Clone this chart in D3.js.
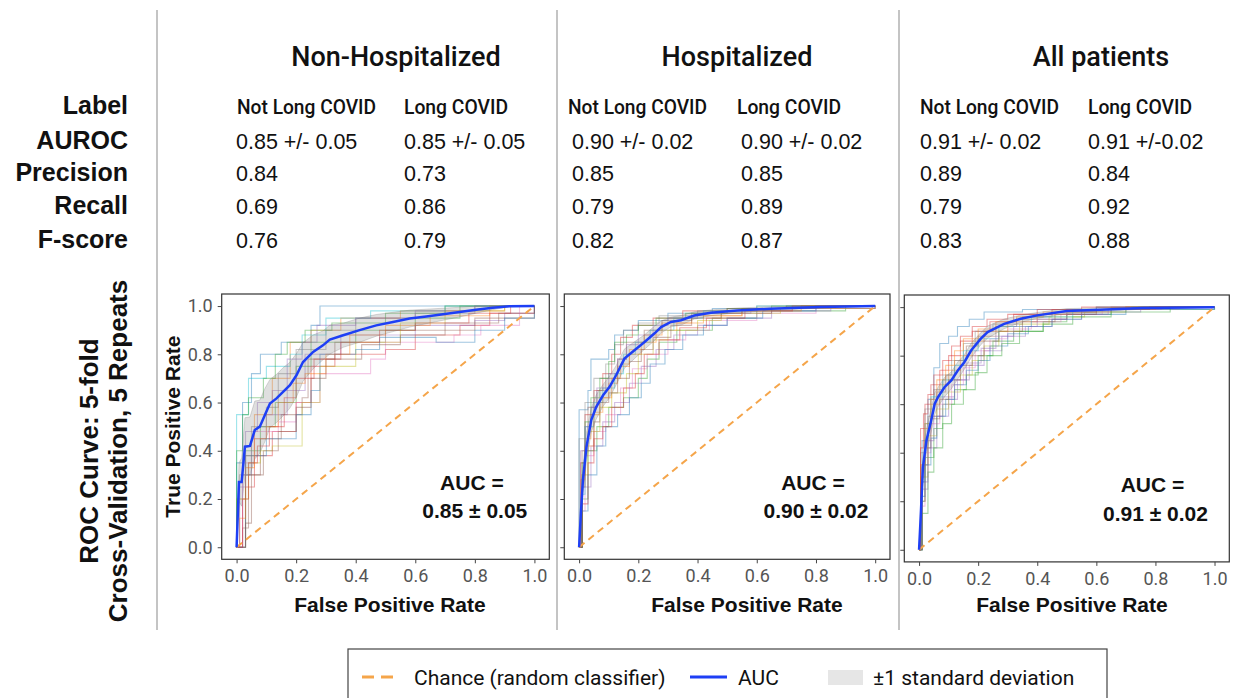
<!DOCTYPE html>
<html>
<head>
<meta charset="utf-8">
<script src="https://cdn.jsdelivr.net/npm/d3@7"></script>
<style>
  body { margin: 0; background: #fff; }
  svg text { font-family: "Liberation Sans", Arial, sans-serif; }
</style>
</head>
<body>
<div id="d3-container"></div>
<script>
// ---- table data ----
const panelTitles = ["Non-Hospitalized", "Hospitalized", "All patients"];
const rowLabels = ["Label", "AUROC", "Precision", "Recall", "F-score"];
const classLabels = ["Not Long COVID", "Long COVID"];
const aurocText = [["0.85 +/- 0.05", "0.85 +/- 0.05"], ["0.90 +/- 0.02", "0.90 +/- 0.02"], ["0.91 +/- 0.02", "0.91 +/-0.02"]];
const precision = [["0.84", "0.73"], ["0.85", "0.85"], ["0.89", "0.84"]];
const recall = [["0.69", "0.86"], ["0.79", "0.89"], ["0.79", "0.92"]];
const fscore = [["0.76", "0.79"], ["0.82", "0.87"], ["0.83", "0.88"]];
const aucMean = ["0.85", "0.90", "0.91"];
const aucStd = ["0.05", "0.02", "0.02"];
const tickValues = [0, 0.2, 0.4, 0.6, 0.8, 1.0];

// ---- mean ROC + std per panel ----
const nonHospMeanFpr = [0, 0.008, 0.017, 0.028, 0.045, 0.061, 0.078, 0.095, 0.112, 0.134, 0.156, 0.179, 0.201, 0.223, 0.257, 0.29, 0.313, 0.358, 0.413, 0.469, 0.525, 0.581, 0.637, 0.693, 0.749, 0.804, 0.86, 0.916, 1];
const nonHospMeanTpr = [0, 0.27, 0.27, 0.417, 0.42, 0.486, 0.50, 0.548, 0.596, 0.617, 0.644, 0.672, 0.713, 0.768, 0.81, 0.837, 0.861, 0.879, 0.90, 0.92, 0.934, 0.948, 0.957, 0.966, 0.975, 0.985, 0.993, 0.999, 1];
const nonHospStd = [0, 0.08, 0.1, 0.12, 0.12, 0.12, 0.11, 0.11, 0.1, 0.1, 0.1, 0.095, 0.09, 0.08, 0.07, 0.06, 0.06, 0.05, 0.05, 0.045, 0.04, 0.035, 0.03, 0.025, 0.02, 0.015, 0.008, 0.002, 0];

const hospMeanFpr = [0, 0.006, 0.013, 0.025, 0.041, 0.058, 0.081, 0.103, 0.125, 0.153, 0.187, 0.221, 0.254, 0.277, 0.31, 0.344, 0.389, 0.445, 0.534, 0.646, 0.814, 1];
const hospMeanTpr = [0, 0.14, 0.28, 0.417, 0.527, 0.582, 0.63, 0.665, 0.713, 0.782, 0.817, 0.851, 0.886, 0.913, 0.934, 0.941, 0.961, 0.972, 0.982, 0.989, 0.996, 1];
const hospStd = [0, 0.05, 0.06, 0.06, 0.05, 0.05, 0.045, 0.045, 0.04, 0.04, 0.035, 0.03, 0.03, 0.025, 0.02, 0.02, 0.015, 0.012, 0.01, 0.008, 0.004, 0];

const allMeanFpr = [0, 0.006, 0.013, 0.025, 0.041, 0.053, 0.064, 0.086, 0.109, 0.131, 0.153, 0.176, 0.209, 0.232, 0.288, 0.344, 0.4, 0.5, 0.613, 0.758, 1];
const allMeanTpr = [0, 0.148, 0.34, 0.45, 0.533, 0.602, 0.629, 0.67, 0.698, 0.739, 0.773, 0.821, 0.87, 0.897, 0.931, 0.952, 0.966, 0.984, 0.989, 0.996, 1];
const allStd = [0, 0.05, 0.06, 0.05, 0.05, 0.045, 0.04, 0.04, 0.035, 0.035, 0.03, 0.03, 0.025, 0.025, 0.02, 0.015, 0.012, 0.01, 0.008, 0.004, 0];

// ---- individual folds (fpr, tpr at each step) ----
const nonHospFolds = [
  [[0,0],[0,0.35],[0.02,0.6],[0.05,0.72],[0.08,0.8],[0.15,0.85],[0.25,0.92],[0.28,1.0],[1,1]],
  [[0,0],[0,0.2],[0.03,0.38],[0.06,0.55],[0.12,0.7],[0.18,0.85],[0.25,0.9],[0.35,0.95],[0.55,0.98],[0.9,1],[1,1]],
  [[0,0],[0.03,0.15],[0.03,0.4],[0.08,0.5],[0.13,0.6],[0.2,0.75],[0.25,0.85],[0.4,0.9],[0.6,0.95],[0.75,1],[1,1]],
  [[0,0],[0.03,0.25],[0.06,0.38],[0.12,0.48],[0.2,0.6],[0.25,0.75],[0.33,0.8],[0.5,0.82],[0.6,0.88],[0.75,0.92],[0.85,0.97],[1,1]],
  [[0,0],[0.02,0.3],[0.05,0.45],[0.1,0.55],[0.17,0.65],[0.23,0.8],[0.35,0.88],[0.6,0.92],[0.8,0.94],[0.9,0.97],[1,1]],
  [[0,0],[0.02,0.08],[0.04,0.3],[0.08,0.45],[0.15,0.55],[0.22,0.62],[0.24,0.78],[0.33,0.85],[0.5,0.9],[0.8,0.95],[1,1]],
  [[0,0],[0.02,0.35],[0.06,0.48],[0.14,0.52],[0.2,0.6],[0.28,0.72],[0.45,0.78],[0.5,0.85],[0.73,0.88],[0.82,0.92],[0.95,1],[1,1]],
  [[0,0],[0.01,0.3],[0.05,0.5],[0.1,0.58],[0.14,0.72],[0.2,0.82],[0.3,0.9],[0.4,0.95],[0.6,0.97],[0.8,1],[1,1]],
  [[0,0],[0,0.2],[0.04,0.35],[0.08,0.4],[0.12,0.42],[0.22,0.43],[0.22,0.6],[0.28,0.75],[0.4,0.85],[0.55,0.93],[0.7,0.98],[0.9,1],[1,1]],
  [[0,0],[0,0.55],[0.04,0.7],[0.1,0.75],[0.18,0.8],[0.22,0.88],[0.3,0.95],[0.45,0.98],[0.7,1],[1,1]],
  [[0,0],[0.03,0.38],[0.1,0.45],[0.2,0.55],[0.25,0.65],[0.28,0.8],[0.4,0.82],[0.48,0.87],[0.67,0.85],[0.8,0.9],[0.9,0.95],[1,1]],
  [[0,0],[0.01,0.12],[0.03,0.33],[0.06,0.45],[0.1,0.5],[0.14,0.6],[0.19,0.68],[0.23,0.72],[0.3,0.8],[0.38,0.88],[0.5,0.92],[0.65,0.96],[0.85,1],[1,1]],
  [[0,0],[0,0.4],[0.02,0.55],[0.04,0.62],[0.09,0.7],[0.13,0.8],[0.17,0.85],[0.23,0.9],[0.32,0.93],[0.5,0.97],[0.7,1],[1,1]],
  [[0,0],[0.02,0.2],[0.04,0.35],[0.07,0.42],[0.11,0.5],[0.16,0.62],[0.2,0.7],[0.26,0.78],[0.35,0.85],[0.48,0.9],[0.6,0.93],[0.78,0.97],[0.92,1],[1,1]],
  [[0,0],[0.01,0.25],[0.03,0.48],[0.07,0.6],[0.12,0.65],[0.17,0.78],[0.22,0.85],[0.27,0.92],[0.4,0.95],[0.6,0.98],[0.8,1],[1,1]],
  [[0,0],[0.03,0.1],[0.05,0.3],[0.09,0.4],[0.14,0.48],[0.2,0.58],[0.25,0.7],[0.3,0.78],[0.42,0.84],[0.55,0.88],[0.7,0.93],[0.88,0.97],[1,1]]
];

const hospFolds = [
  [[0,0],[0,0.57],[0.03,0.65],[0.04,0.78],[0.1,0.82],[0.12,0.88],[0.15,0.9],[0.2,0.94],[0.3,0.97],[0.45,0.99],[0.7,1],[1,1]],
  [[0,0],[0.01,0.3],[0.02,0.45],[0.04,0.55],[0.07,0.62],[0.1,0.68],[0.13,0.75],[0.17,0.82],[0.22,0.88],[0.28,0.93],[0.38,0.96],[0.55,0.99],[0.8,1],[1,1]],
  [[0,0],[0.01,0.2],[0.03,0.4],[0.06,0.5],[0.1,0.58],[0.15,0.62],[0.2,0.7],[0.23,0.78],[0.27,0.85],[0.33,0.9],[0.45,0.95],[0.6,0.98],[0.9,1],[1,1]],
  [[0,0],[0.005,0.35],[0.02,0.55],[0.05,0.65],[0.08,0.72],[0.11,0.8],[0.14,0.87],[0.18,0.92],[0.25,0.95],[0.35,0.98],[0.5,0.99],[0.7,1],[1,1]],
  [[0,0],[0.01,0.25],[0.04,0.42],[0.08,0.52],[0.12,0.6],[0.17,0.68],[0.21,0.75],[0.26,0.82],[0.32,0.88],[0.4,0.92],[0.5,0.95],[0.65,0.98],[0.85,1],[1,1]],
  [[0,0],[0.01,0.4],[0.03,0.58],[0.06,0.65],[0.09,0.7],[0.13,0.78],[0.16,0.85],[0.22,0.9],[0.28,0.94],[0.38,0.97],[0.55,0.99],[0.75,1],[1,1]],
  [[0,0],[0.005,0.15],[0.02,0.38],[0.05,0.48],[0.09,0.55],[0.14,0.66],[0.18,0.74],[0.23,0.8],[0.3,0.86],[0.36,0.9],[0.44,0.94],[0.6,0.97],[0.8,0.99],[1,1]],
  [[0,0],[0,0.45],[0.02,0.6],[0.05,0.7],[0.09,0.76],[0.12,0.84],[0.15,0.9],[0.2,0.93],[0.27,0.96],[0.4,0.98],[0.6,1],[1,1]],
  [[0,0],[0.01,0.3],[0.03,0.48],[0.07,0.58],[0.11,0.64],[0.16,0.72],[0.2,0.8],[0.25,0.86],[0.3,0.9],[0.4,0.94],[0.48,0.97],[0.68,0.99],[1,1]],
  [[0,0],[0.01,0.22],[0.02,0.5],[0.05,0.6],[0.08,0.66],[0.12,0.72],[0.15,0.8],[0.19,0.85],[0.24,0.9],[0.32,0.95],[0.42,0.98],[0.6,1],[1,1]],
  [[0,0],[0.01,0.15],[0.03,0.3],[0.06,0.42],[0.09,0.5],[0.13,0.55],[0.17,0.62],[0.21,0.68],[0.24,0.76],[0.29,0.82],[0.35,0.88],[0.42,0.92],[0.5,0.95],[0.62,0.98],[0.8,1],[1,1]],
  [[0,0],[0.005,0.28],[0.02,0.42],[0.05,0.56],[0.08,0.62],[0.11,0.7],[0.14,0.76],[0.17,0.8],[0.21,0.85],[0.26,0.9],[0.33,0.93],[0.42,0.96],[0.55,0.98],[0.75,1],[1,1]],
  [[0,0],[0.01,0.35],[0.02,0.52],[0.04,0.62],[0.07,0.7],[0.1,0.77],[0.12,0.85],[0.16,0.88],[0.2,0.92],[0.26,0.95],[0.36,0.97],[0.5,0.99],[0.65,1],[1,1]],
  [[0,0],[0.01,0.18],[0.03,0.35],[0.05,0.45],[0.08,0.5],[0.11,0.58],[0.15,0.66],[0.19,0.72],[0.22,0.8],[0.27,0.86],[0.34,0.91],[0.43,0.95],[0.56,0.98],[0.72,1],[1,1]],
  [[0,0],[0.005,0.4],[0.02,0.5],[0.04,0.58],[0.06,0.66],[0.1,0.72],[0.13,0.78],[0.16,0.84],[0.2,0.88],[0.25,0.92],[0.3,0.95],[0.4,0.97],[0.58,0.99],[0.8,1],[1,1]],
  [[0,0],[0.01,0.25],[0.02,0.4],[0.05,0.52],[0.07,0.6],[0.1,0.64],[0.13,0.7],[0.17,0.77],[0.21,0.82],[0.25,0.87],[0.31,0.92],[0.38,0.95],[0.48,0.97],[0.65,0.99],[1,1]]
];

const allFolds = [
  [[0,0],[0.01,0.45],[0.03,0.62],[0.05,0.75],[0.07,0.85],[0.1,0.88],[0.13,0.92],[0.17,0.95],[0.22,0.98],[0.35,0.99],[0.6,1],[1,1]],
  [[0,0],[0.005,0.3],[0.02,0.5],[0.04,0.6],[0.07,0.68],[0.1,0.74],[0.14,0.8],[0.18,0.86],[0.22,0.9],[0.3,0.94],[0.4,0.97],[0.55,0.99],[0.8,1],[1,1]],
  [[0,0],[0.01,0.2],[0.02,0.38],[0.05,0.5],[0.08,0.6],[0.12,0.66],[0.16,0.72],[0.2,0.8],[0.25,0.86],[0.32,0.9],[0.42,0.94],[0.5,0.97],[0.65,0.99],[1,1]],
  [[0,0],[0.005,0.5],[0.02,0.6],[0.04,0.68],[0.07,0.74],[0.1,0.8],[0.14,0.86],[0.18,0.9],[0.24,0.94],[0.32,0.97],[0.45,0.99],[0.7,1],[1,1]],
  [[0,0],[0.01,0.25],[0.03,0.42],[0.06,0.55],[0.1,0.62],[0.13,0.7],[0.17,0.76],[0.22,0.82],[0.28,0.88],[0.36,0.92],[0.45,0.95],[0.55,0.98],[0.75,1],[1,1]],
  [[0,0],[0.01,0.35],[0.03,0.55],[0.06,0.65],[0.09,0.72],[0.12,0.78],[0.16,0.84],[0.2,0.88],[0.26,0.92],[0.33,0.95],[0.5,0.98],[0.65,1],[1,1]],
  [[0,0],[0.005,0.18],[0.02,0.4],[0.04,0.52],[0.07,0.6],[0.11,0.68],[0.15,0.75],[0.19,0.82],[0.24,0.87],[0.3,0.91],[0.38,0.94],[0.48,0.97],[0.62,0.99],[0.88,1],[1,1]],
  [[0,0],[0.005,0.4],[0.02,0.58],[0.05,0.66],[0.08,0.72],[0.11,0.78],[0.15,0.85],[0.19,0.9],[0.25,0.93],[0.35,0.96],[0.45,0.98],[0.6,1],[1,1]],
  [[0,0],[0.01,0.3],[0.03,0.47],[0.06,0.58],[0.1,0.65],[0.14,0.72],[0.18,0.78],[0.22,0.84],[0.27,0.9],[0.34,0.93],[0.44,0.96],[0.56,0.98],[0.7,1],[1,1]],
  [[0,0],[0.01,0.28],[0.02,0.52],[0.04,0.63],[0.08,0.7],[0.12,0.76],[0.15,0.82],[0.2,0.87],[0.27,0.92],[0.38,0.96],[0.52,0.99],[0.72,1],[1,1]],
  [[0,0],[0.005,0.22],[0.02,0.35],[0.04,0.46],[0.06,0.55],[0.09,0.62],[0.12,0.68],[0.16,0.74],[0.2,0.78],[0.24,0.84],[0.3,0.89],[0.37,0.92],[0.45,0.95],[0.55,0.97],[0.7,0.99],[1,1]],
  [[0,0],[0.005,0.35],[0.02,0.52],[0.04,0.62],[0.06,0.7],[0.09,0.76],[0.12,0.82],[0.15,0.87],[0.2,0.91],[0.26,0.94],[0.33,0.96],[0.42,0.98],[0.6,0.99],[0.8,1],[1,1]],
  [[0,0],[0.01,0.15],[0.03,0.32],[0.05,0.42],[0.08,0.52],[0.11,0.6],[0.15,0.66],[0.19,0.73],[0.23,0.8],[0.28,0.85],[0.34,0.9],[0.42,0.93],[0.52,0.96],[0.65,0.98],[0.85,1],[1,1]],
  [[0,0],[0.005,0.42],[0.015,0.56],[0.03,0.64],[0.05,0.72],[0.08,0.78],[0.11,0.84],[0.14,0.88],[0.18,0.92],[0.23,0.95],[0.3,0.97],[0.4,0.99],[0.55,1],[1,1]],
  [[0,0],[0.01,0.28],[0.03,0.45],[0.05,0.55],[0.08,0.63],[0.12,0.7],[0.16,0.77],[0.21,0.83],[0.26,0.88],[0.32,0.92],[0.4,0.95],[0.5,0.97],[0.64,0.99],[0.82,1],[1,1]],
  [[0,0],[0.01,0.2],[0.02,0.42],[0.04,0.54],[0.07,0.62],[0.1,0.7],[0.14,0.76],[0.18,0.8],[0.22,0.86],[0.27,0.9],[0.35,0.94],[0.46,0.97],[0.6,0.99],[0.78,1],[1,1]]
];

const foldColors = ["#1f77b4", "#ff7f0e", "#2ca02c", "#d62728", "#9467bd", "#8c564b", "#e377c2", "#7f7f7f", "#bcbd22", "#17becf"];

const width = 1238, height = 698;

// panel geometry (pixel boxes)
const panels = [
  { frame: [221.7, 294, 549.3, 559.3], headX: [237, 404], valX: [236, 404], titleX: 396, xLabelX: 390, yLabels: true,
    fpr: nonHospMeanFpr, tpr: nonHospMeanTpr, std: nonHospStd, folds: nonHospFolds },
  { frame: [564.3, 294, 890, 559.3], headX: [568, 737], valX: [572, 741], titleX: 737, xLabelX: 747, yLabels: false,
    fpr: hospMeanFpr, tpr: hospMeanTpr, std: hospStd, folds: hospFolds },
  { frame: [904.3, 295, 1229.3, 561.9], headX: [920, 1088], valX: [920, 1088], titleX: 1101, xLabelX: 1072, yLabels: false,
    fpr: allMeanFpr, tpr: allMeanTpr, std: allStd, folds: allFolds }
];

const svg = d3.select("#d3-container")
  .append("svg")
  .attr("width", width)
  .attr("height", height)

// separators
svg.selectAll("line.sep")
  .data([157, 557, 899])
  .join("line")
  .attr("class", "sep")
  .attr("x1", d => d).attr("x2", d => d)
  .attr("y1", 10).attr("y2", 630)
  .attr("stroke", "#c4c4c4")
  .attr("stroke-width", 2)

// row labels
const rowBaselines = [114, 149, 181, 214, 248];
svg.selectAll("text.rowlab")
  .data(rowLabels)
  .join("text")
  .attr("class", "rowlab")
  .attr("x", 128)
  .attr("y", (d, i) => rowBaselines[i])
  .attr("text-anchor", "end")
  .attr("font-size", 25)
  .attr("font-weight", "bold")
  .attr("fill", "#111")
  .text(d => d)

// side title (two lines, rotated)
const sideLines = [
  { text: "ROC Curve: 5-fold", x: 98 },
  { text: "Cross-Validation, 5 Repeats", x: 127 }
];
svg.selectAll("text.side")
  .data(sideLines)
  .join("text")
  .attr("class", "side")
  .attr("transform", d => `translate(${d.x}, 451)rotate(-90)`)
  .attr("text-anchor", "middle")
  .attr("font-size", 26)
  .attr("font-weight", "bold")
  .attr("fill", "#111")
  .text(d => d.text)

panels.forEach((p, pi) => {
  const [x0, y0, x1, y1] = p.frame;
  const x = d3.scaleLinear().domain([-0.05, 1.05]).range([x0, x1]);
  const y = d3.scaleLinear().domain([-0.05, 1.05]).range([y1, y0]);

  // title
  svg.append("text")
    .attr("x", p.titleX).attr("y", 66)
    .attr("text-anchor", "middle")
    .style("font-family", "Roboto, sans-serif")
    .attr("font-weight", 500)
    .attr("font-size", 27)
    .attr("fill", "#111")
    .text(panelTitles[pi])

  // column heads
  classLabels.forEach((c, ci) => {
    svg.append("text")
      .attr("x", p.headX[ci]).attr("y", 114)
      .style("font-family", "Roboto, sans-serif")
      .attr("font-weight", 500)
      .attr("font-size", 20)
      .attr("textLength", ci === 0 ? 139 : 104)
      .attr("lengthAdjust", "spacingAndGlyphs")
      .attr("fill", "#111")
      .text(c)
  })

  // values
  const cols = [aurocText[pi], precision[pi], recall[pi], fscore[pi]];
  cols.forEach((vals, ri) => {
    vals.forEach((v, ci) => {
      svg.append("text")
        .attr("x", p.valX[ci]).attr("y", rowBaselines[ri + 1])
        .attr("font-size", 21.5)
        .attr("fill", "#111")
        .text(v)
    })
  })

  const g = svg.append("g");

  // folds
  const foldLine = d3.line().x(e => x(e[0])).y(e => y(e[1])).curve(d3.curveStepAfter);
  g.selectAll("path.fold")
    .data(p.folds)
    .join("path")
    .attr("class", "fold")
    .attr("d", foldLine)
    .attr("fill", "none")
    .attr("stroke", (d, i) => foldColors[i % foldColors.length])
    .attr("stroke-opacity", 0.42)
    .attr("stroke-width", 1.1)

  // std band
  const band = p.fpr.map((f, i) => ({ f, lo: Math.max(0, p.tpr[i] - p.std[i]), hi: Math.min(1, p.tpr[i] + p.std[i]) }));
  g.append("path")
    .datum(band)
    .attr("d", d3.area().x(d => x(d.f)).y0(d => y(d.lo)).y1(d => y(d.hi)))
    .attr("fill", "#808080")
    .attr("fill-opacity", 0.25)
    .attr("stroke", "#777")
    .attr("stroke-opacity", 0.35)
    .attr("stroke-width", 0.8)

  // chance line
  g.append("path")
    .datum([[0, 0], [1, 1]])
    .attr("d", d3.line().x(d => x(d[0])).y(d => y(d[1])))
    .attr("stroke", "#f5a54a")
    .attr("stroke-width", 2)
    .attr("stroke-dasharray", "7,5")

  // mean
  g.append("path")
    .datum(p.fpr.map((f, i) => [f, p.tpr[i]]))
    .attr("d", d3.line().x(d => x(d[0])).y(d => y(d[1])))
    .attr("fill", "none")
    .attr("stroke", "#1e3ff5")
    .attr("stroke-width", 2.5)

  // frame
  svg.append("rect")
    .attr("x", x0).attr("y", y0)
    .attr("width", x1 - x0).attr("height", y1 - y0)
    .attr("fill", "none")
    .attr("stroke", "#333")
    .attr("stroke-width", 1.2)

  // axes
  const xAxis = d3.axisBottom(x).tickValues(tickValues).tickFormat(d3.format(".1f")).tickSize(4).tickPadding(6);
  const xg = svg.append("g")
    .attr("transform", `translate(0, ${y1})`)
    .call(xAxis)
  const yAxis = d3.axisLeft(y).tickValues(tickValues).tickSize(4).tickPadding(5)
    .tickFormat(p.yLabels ? d3.format(".1f") : "");
  const yg = svg.append("g")
    .attr("transform", `translate(${x0}, 0)`)
    .call(yAxis)
  ;[xg, yg].forEach(a => {
    a.select(".domain").remove();
    a.selectAll(".tick line").attr("stroke", "#444");
    a.selectAll(".tick text")
      .style("font-family", "Roboto, sans-serif")
      .attr("font-size", 18)
      .attr("fill", "#555");
  })

  // axis titles
  svg.append("text")
    .attr("x", p.xLabelX).attr("y", 612)
    .attr("text-anchor", "middle")
    .attr("font-size", 21)
    .attr("font-weight", "bold")
    .attr("fill", "#111")
    .text("False Positive Rate")

  if (p.yLabels) {
    svg.append("text")
      .attr("transform", `translate(180, ${(y0 + y1) / 2})rotate(-90)`)
      .attr("text-anchor", "middle")
      .attr("font-size", 21)
      .attr("font-weight", "bold")
      .attr("fill", "#111")
      .text("True Positive Rate")
  }

  // AUC annotation
  svg.append("text")
    .attr("x", x(0.79)).attr("y", y(0.237))
    .attr("text-anchor", "middle")
    .attr("font-size", 21)
    .attr("font-weight", "bold")
    .attr("fill", "#111")
    .text("AUC =")
  svg.append("text")
    .attr("x", x(0.80)).attr("y", y(0.12))
    .attr("text-anchor", "middle")
    .attr("font-size", 21)
    .attr("font-weight", "bold")
    .attr("fill", "#111")
    .text(`${aucMean[pi]} \u00b1 ${aucStd[pi]}`)
})

// legend
const legend = svg.append("g");
legend.append("rect")
  .attr("x", 348).attr("y", 649)
  .attr("width", 759).attr("height", 70)
  .attr("fill", "#fff")
  .attr("stroke", "#444")
  .attr("stroke-width", 1.2)
legend.append("line")
  .attr("x1", 362).attr("x2", 396).attr("y1", 677).attr("y2", 677)
  .attr("stroke", "#f5a54a").attr("stroke-width", 3).attr("stroke-dasharray", "12,7")
legend.append("line")
  .attr("x1", 690).attr("x2", 727).attr("y1", 677).attr("y2", 677)
  .attr("stroke", "#1e3ff5").attr("stroke-width", 3)
legend.append("rect")
  .attr("x", 828).attr("y", 670).attr("width", 35).attr("height", 15)
  .attr("fill", "#e6e6e6")
const legendItems = [["Chance (random classifier)", 414], ["AUC", 738], ["\u00b11 standard deviation", 873]];
legend.selectAll("text")
  .data(legendItems)
  .join("text")
  .attr("x", d => d[1]).attr("y", 685)
  .style("font-family", "Roboto, sans-serif")
  .attr("font-size", 21)
  .attr("fill", "#111")
  .text(d => d[0])
</script>
</body>
</html>
